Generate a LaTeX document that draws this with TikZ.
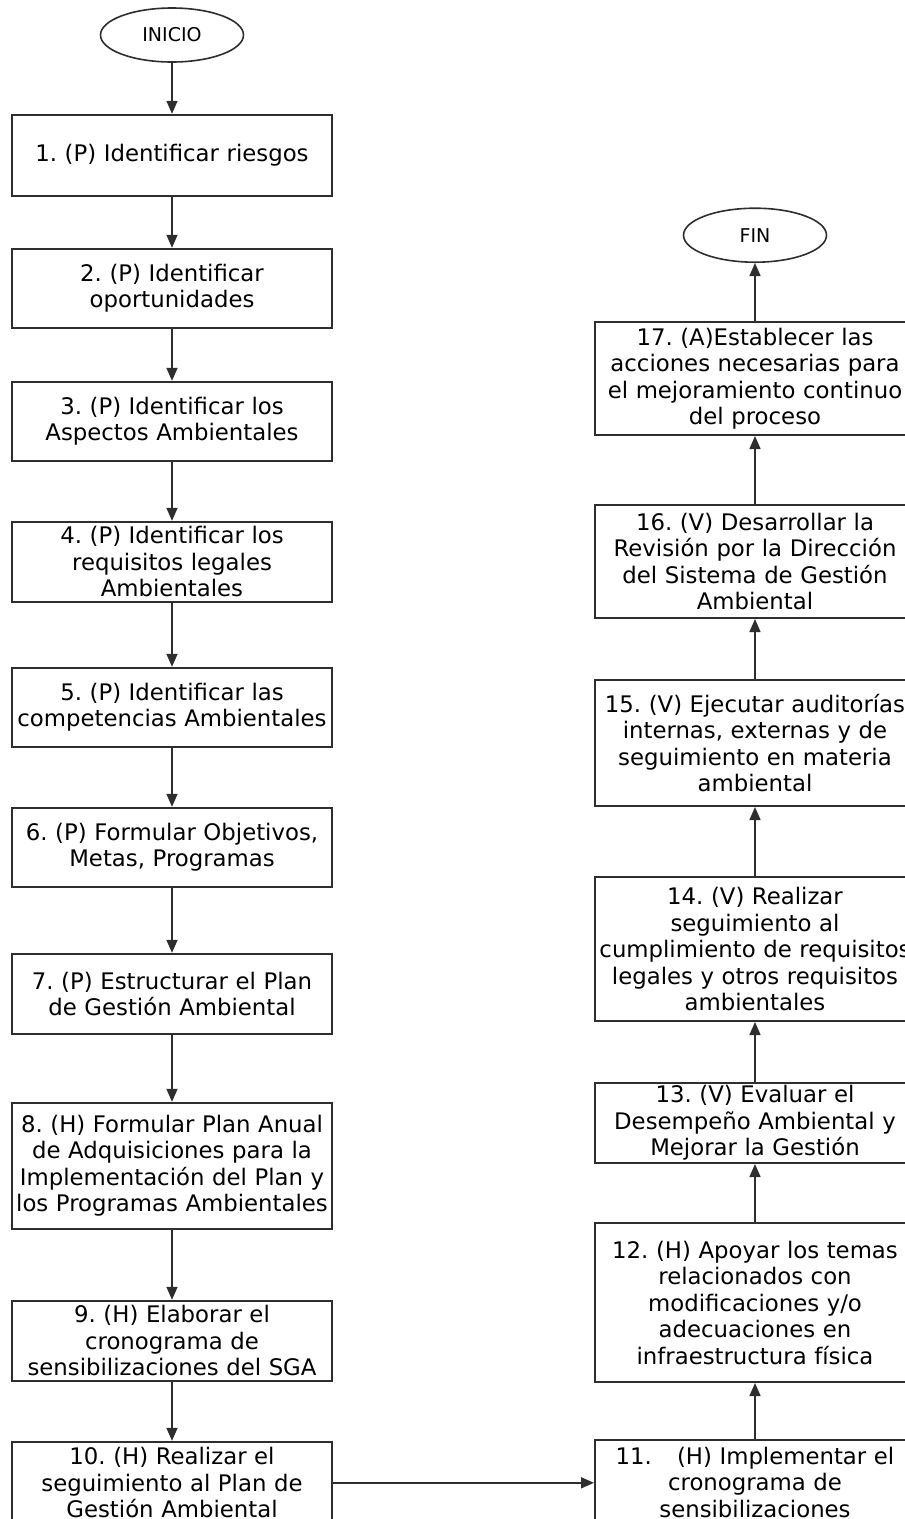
\documentclass[tikz,border=0pt]{standalone}
\usepackage{fontspec}
\setmainfont{DejaVu Sans}
\usepackage{tikz}
\usetikzlibrary{arrows.meta, positioning, shapes.geometric}
\usepackage{xcolor}
\definecolor{edge}{HTML}{2E2E2E}
\frenchspacing

\begin{document}
\begin{tikzpicture}[
    x=1pt, y=-1pt,
    >={Triangle[length=13pt, width=11pt]},
    stepbox/.style={draw=edge, line width=2pt, minimum width=320pt, text width=318pt,
                    inner sep=1pt, align=center, font=\fontsize{22.8}{26.5}\selectfont},
    term/.style={ellipse, draw=edge, line width=1.6pt, minimum width=143pt, minimum height=54pt,
                 inner sep=0pt, font=\fontsize{19}{21}\selectfont},
    arrow/.style={->, line width=1.5pt, draw=edge},
]
    \useasboundingbox (0,0) rectangle (905,1519);
    \clip (0,0) rectangle (905,1519);

    % Left column
    \node[term] (inicio) at (172,35) {INICIO};
    \node[stepbox, minimum height=81pt, below=51pt of inicio] (b1) {1. (P) Identificar riesgos};
    \node[stepbox, minimum height=79pt, below=51pt of b1] (b2) {2. (P) Identificar\\oportunidades};
    \node[stepbox, minimum height=79pt, below=52pt of b2] (b3) {3. (P) Identificar los\\Aspectos Ambientales};
    \node[stepbox, minimum height=80pt, below=59pt of b3] (b4) {4. (P) Identificar los\\requisitos legales\\Ambientales};
    \node[stepbox, minimum height=79pt, below=64pt of b4] (b5) {5. (P) Identificar las\\competencias Ambientales};
    \node[stepbox, minimum height=79pt, below=59pt of b5] (b6) {6. (P) Formular Objetivos,\\Metas, Programas};
    \node[stepbox, minimum height=80pt, below=65pt of b6] (b7) {7. (P) Estructurar el Plan\\de Gestión Ambiental};
    \node[stepbox, minimum height=126pt, below=67pt of b7] (b8) {8. (H) Formular Plan Anual\\de Adquisiciones para la\\Implementación del Plan y\\los Programas Ambientales};
    \node[stepbox, minimum height=80pt, below=70pt of b8] (b9) {9. (H) Elaborar el\\cronograma de\\sensibilizaciones del SGA};
    \node[stepbox, minimum height=82pt, below=59pt of b9] (b10) {10. (H) Realizar el\\seguimiento al Plan de\\Gestión Ambiental};

    % Right column
    \node[stepbox, minimum height=84pt] (b11) at (755,1482) {11.\hspace{1.1em}(H) Implementar el\\cronograma de\\sensibilizaciones};
    \node[stepbox, minimum height=159pt, above=56pt of b11] (b12) {12. (H) Apoyar los temas\\relacionados con\\modificaciones y/o\\adecuaciones en\\infraestructura física};
    \node[stepbox, minimum height=80pt, above=58pt of b12] (b13) {13. (V) Evaluar el\\Desempeño Ambiental y\\Mejorar la Gestión};
    \node[stepbox, minimum height=144pt, above=60pt of b13] (b14) {14. (V) Realizar\\seguimiento al\\cumplimiento de requisitos\\legales y otros requisitos\\ambientales};
    \node[stepbox, minimum height=126pt, above=69pt of b14] (b15) {15. (V) Ejecutar auditorías\\internas, externas y de\\seguimiento en materia\\ambiental};
    \node[stepbox, minimum height=113pt, above=60pt of b15] (b16) {16. (V) Desarrollar la\\Revisión por la Dirección\\del Sistema de Gestión\\Ambiental};
    \node[stepbox, minimum height=113pt, above=68pt of b16] (b17) {17. (A)Establecer las\\acciones necesarias para\\el mejoramiento continuo\\del proceso};
    \node[term, above=58pt of b17] (fin) {FIN};

    \draw[arrow] (inicio) -- (b1);
    \draw[arrow] (b1) -- (b2);
    \draw[arrow] (b2) -- (b3);
    \draw[arrow] (b3) -- (b4);
    \draw[arrow] (b4) -- (b5);
    \draw[arrow] (b5) -- (b6);
    \draw[arrow] (b6) -- (b7);
    \draw[arrow] (b7) -- (b8);
    \draw[arrow] (b8) -- (b9);
    \draw[arrow] (b9) -- (b10);
    \draw[arrow] (b10.east) -- (b10.east -| b11.west);
    \draw[arrow] (b11) -- (b12);
    \draw[arrow] (b12) -- (b13);
    \draw[arrow] (b13) -- (b14);
    \draw[arrow] (b14) -- (b15);
    \draw[arrow] (b15) -- (b16);
    \draw[arrow] (b16) -- (b17);
    \draw[arrow] (b17) -- (fin);
\end{tikzpicture}
\end{document}
